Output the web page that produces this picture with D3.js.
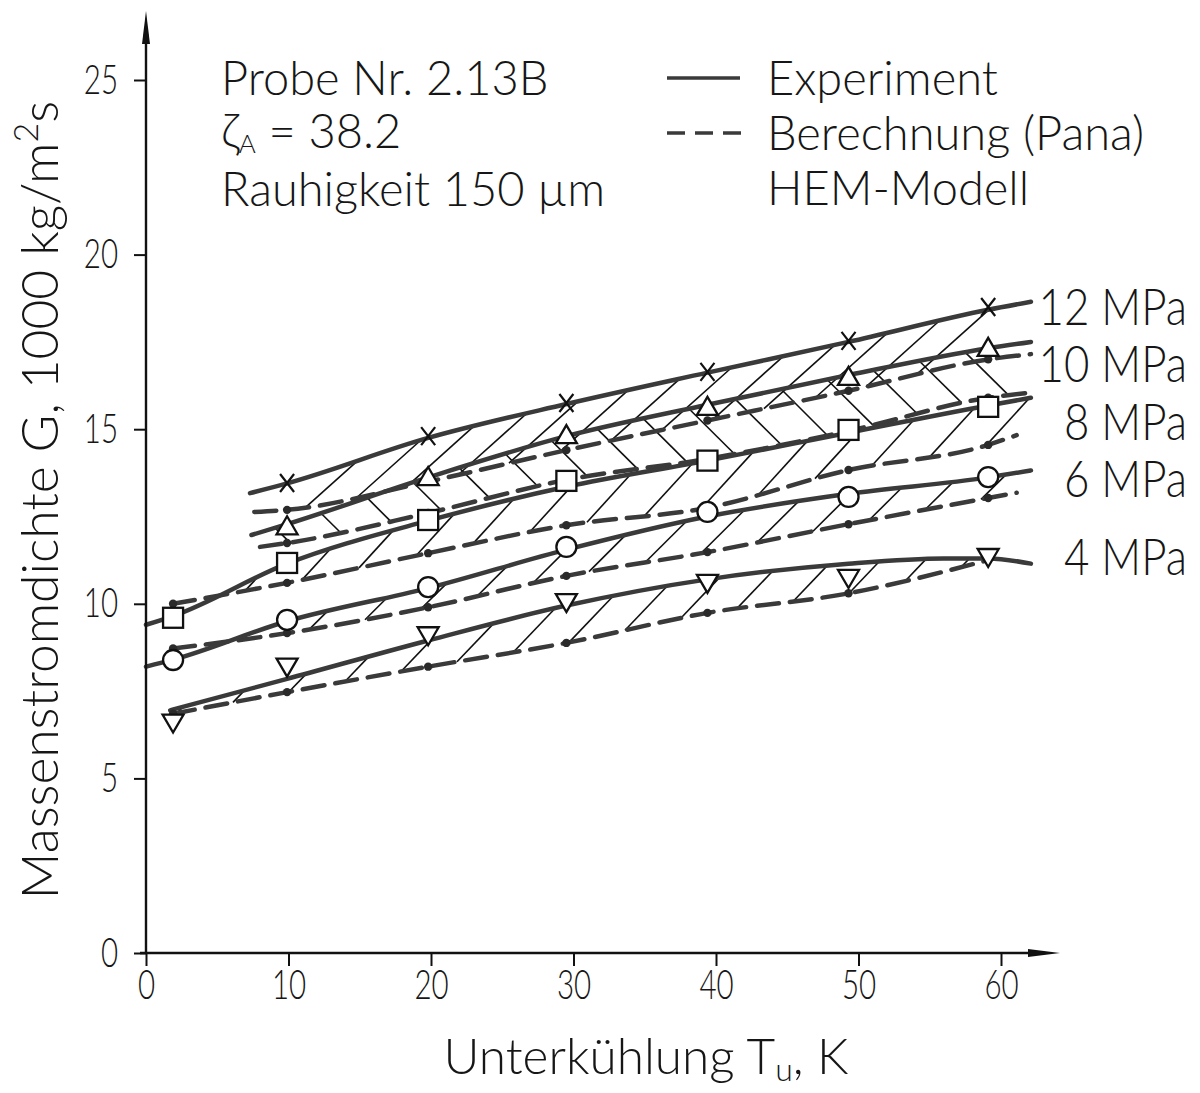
<!DOCTYPE html>
<html>
<head>
<meta charset="utf-8">
<script src="https://cdn.jsdelivr.net/npm/d3@7"></script>
<style>
  html, body { margin: 0; padding: 0; background: #fff; }
  svg { display: block; }
  text { font-family: Lato, "Liberation Sans", Arimo, sans-serif; font-weight: 300; fill: #161616; }
</style>
</head>
<body>
<svg id="chart" width="1200" height="1093"></svg>
<script>
// ---------------------------------------------------------------
// Mass flux G (1000 kg/m²s) versus subcooling T_u (K), sample 2.13B
// ---------------------------------------------------------------

const pressures = ["12 MPa", "10 MPa", "8 MPa", "6 MPa", "4 MPa"];

// measured points (markers)
const markX12 = [9.9, 19.8, 29.5, 39.4, 49.3, 59.1];
const markG12 = [13.46, 14.8, 15.75, 16.64, 17.53, 18.5];
const markX10 = [9.9, 19.8, 29.5, 39.4, 49.3, 59.1];
const markG10 = [12.22, 13.63, 14.83, 15.64, 16.5, 17.33];
const markX8  = [1.9, 9.9, 19.8, 29.5, 39.4, 49.3, 59.1];
const markG8  = [9.6, 11.17, 12.4, 13.52, 14.1, 14.98, 15.64];
const markX6  = [1.9, 9.9, 19.8, 29.5, 39.4, 49.3, 59.1];
const markG6  = [8.39, 9.54, 10.48, 11.63, 12.63, 13.06, 13.63];
const markX4  = [1.9, 9.9, 19.8, 29.5, 39.4, 49.3, 59.1];
const markG4  = [6.6, 8.2, 9.1, 10.05, 10.6, 10.74, 11.34];

// experiment curves (solid)
const expX12 = [7.3, 9.9, 19.8, 29.5, 39.4, 49.3, 59.1, 62.1];
const expG12 = [13.17, 13.45, 14.75, 15.72, 16.62, 17.5, 18.42, 18.65];
const expX10 = [7.4, 9.9, 19.8, 29.5, 39.4, 49.3, 59.1, 62.1];
const expG10 = [11.97, 12.28, 13.62, 14.8, 15.7, 16.55, 17.32, 17.5];
const expX8  = [0, 1.9, 9.9, 19.8, 29.5, 39.4, 49.3, 59.1, 62.1];
const expG8  = [9.4, 9.65, 11.15, 12.38, 13.35, 14.1, 14.9, 15.68, 15.9];
const expX6  = [0, 1.9, 9.9, 19.8, 29.5, 39.4, 49.3, 59.1, 62.1];
const expG6  = [8.2, 8.4, 9.5, 10.45, 11.55, 12.5, 13.15, 13.62, 13.82];
const expX4  = [1.7, 9.9, 19.8, 29.5, 39.4, 49.3, 56, 59.1, 62.1];
const expG4  = [6.95, 7.85, 8.95, 9.95, 10.7, 11.15, 11.3, 11.3, 11.15];

// HEM model calculation (dashed)
const calcX12 = [7.6, 9.9, 19.8, 29.5, 39.4, 49.3, 59.1, 62.1];
const calcG12 = [12.63, 12.69, 13.5, 14.4, 15.25, 16.1, 17.0, 17.15];
const calcX10 = [8, 9.9, 19.8, 29.5, 39.4, 49.3, 59.1, 62.1];
const calcG10 = [11.63, 11.74, 12.6, 13.55, 14.15, 14.95, 15.9, 16.05];
const calcX8  = [1.9, 9.9, 19.8, 29.5, 39.4, 49.3, 59.1, 61.1];
const calcG8  = [10.0, 10.6, 11.45, 12.25, 12.75, 13.83, 14.55, 14.83];
const calcX6  = [1.9, 9.9, 19.8, 29.5, 39.4, 49.3, 59.1, 61.1];
const calcG6  = [8.72, 9.16, 9.9, 10.8, 11.48, 12.28, 13.03, 13.18];
const calcX4  = [1.9, 9.9, 19.8, 29.5, 39.4, 49.3, 59.1];
const calcG4  = [6.85, 7.47, 8.2, 8.88, 9.74, 10.3, 11.25];

// axis ticks
const xTicks = [0, 10, 20, 30, 40, 50, 60];
const yTicks = [0, 5, 10, 15, 20, 25];

// text
const infoLines = ["Probe Nr. 2.13B", "= 38.2", "Rauhigkeit 150 µm"];
const legendLines = ["Experiment", "Berechnung (Pana)", "HEM-Modell"];

// ---------------------------------------------------------------
const zip = (a, b) => a.map((v, i) => [v, b[i]]);
const series = [
  { p: pressures[0], mark: zip(markX12, markG12), exp: zip(expX12, expG12), calc: zip(calcX12, calcG12), sym: "cross" },
  { p: pressures[1], mark: zip(markX10, markG10), exp: zip(expX10, expG10), calc: zip(calcX10, calcG10), sym: "triUp" },
  { p: pressures[2], mark: zip(markX8,  markG8),  exp: zip(expX8,  expG8),  calc: zip(calcX8,  calcG8),  sym: "square" },
  { p: pressures[3], mark: zip(markX6,  markG6),  exp: zip(expX6,  expG6),  calc: zip(calcX6,  calcG6),  sym: "circle" },
  { p: pressures[4], mark: zip(markX4,  markG4),  exp: zip(expX4,  expG4),  calc: zip(calcX4,  calcG4),  sym: "triDown" }
];

// hatching style per band and label placement
const bandStyle = {
  "12 MPa": { dir: "/",  step: 51, start: 254, slope: 0.9, label: [1187, 325] },
  "10 MPa": { dir: "\\", step: 46, start: 275, slope: 1.0, label: [1187, 382] },
  "8 MPa":  { dir: "/",  step: 57, start: 245, slope: 1.1, label: [1187, 440] },
  "6 MPa":  { dir: "/",  step: 56, start: 309, slope: 1.0, label: [1187, 497] },
  "4 MPa":  { dir: "/",  step: 56, start: 177, slope: 1.05, label: [1187, 575] }
};

const svg = d3.select("#chart");
const x = d3.scaleLinear().domain([0, 60]).range([146, 1001]);
const y = d3.scaleLinear().domain([0, 25]).range([953, 80]);

const curveCol = "#3a3a3a";
const ink = "#111";
const squeeze = 0.72;   // horizontal compression of the numerals

const gHatch = svg.append("g");
const gCalc = svg.append("g");
const gExp = svg.append("g");
const gDots = svg.append("g");
const gMarks = svg.append("g");
const gAxes = svg.append("g");

const line = d3.line().x(d => x(d[0])).y(d => y(d[1])).curve(d3.curveMonotoneX);

// sample a drawn path so hatch lines can end exactly on it
function sampler(node) {
  const L = node.getTotalLength();
  const pts = [];
  for (let l = 0; l <= L; l += 0.75) {
    const p = node.getPointAtLength(l);
    pts.push([p.x, p.y]);
  }
  pts.sort((a, b) => a[0] - b[0]);
  const xs = pts.map(p => p[0]);
  const bis = d3.bisector(d => d).left;
  return function (px) {
    if (px < xs[0] || px > xs[xs.length - 1]) return null;
    let i = bis(xs, px);
    if (i <= 0) return pts[0][1];
    const a = pts[i - 1], b = pts[i];
    const t = (b[0] - a[0]) === 0 ? 0 : (px - a[0]) / (b[0] - a[0]);
    return a[1] + t * (b[1] - a[1]);
  };
}

series.forEach(s => {
  const calcPath = gCalc.append("path")
    .attr("d", line(s.calc))
    .attr("fill", "none")
    .attr("stroke", curveCol)
    .attr("stroke-width", 4.5)
    .attr("stroke-dasharray", "22,11")
    .attr("stroke-linecap", "round");
  const expPath = gExp.append("path")
    .attr("d", line(s.exp))
    .attr("fill", "none")
    .attr("stroke", curveCol)
    .attr("stroke-width", 4.5)
    .attr("stroke-linecap", "round");

  // dots of the calculation at the measured subcoolings
  const markXs = s.mark.map(d => d[0]);
  gDots.selectAll(null)
    .data(s.calc.filter(d => markXs.includes(d[0])))
    .join("circle")
    .attr("cx", d => x(d[0]))
    .attr("cy", d => y(d[1]))
    .attr("r", 4.2)
    .attr("fill", "#2a2a2a");

  // hatching between experiment and calculation
  const up = sampler(expPath.node());
  const lo = sampler(calcPath.node());
  const st = bandStyle[s.p];
  const segs = [];
  for (let px = st.start; px < 1040; px += st.step) {
    if (st.dir === "/") {
      const yb = lo(px);
      if (yb === null) continue;
      let t = 0, hit = null;
      while (t < 160) {
        const xs = px + t, ys = yb - t * st.slope;
        const u = up(xs);
        if (u === null) break;
        if (ys <= u) { hit = [xs, u]; break; }
        t += 0.5;
      }
      if (hit && t > 3) segs.push([[px, yb], hit]);
    } else {
      const ya = up(px);
      if (ya === null) continue;
      let t = 0, hit = null;
      while (t < 160) {
        const xs = px + t, ys = ya + t * st.slope;
        const l = lo(xs);
        if (l === null) break;
        if (ys >= l) { hit = [xs, l]; break; }
        t += 0.5;
      }
      if (hit && t > 3) segs.push([[px, ya], hit]);
    }
  }
  gHatch.selectAll(null)
    .data(segs)
    .join("line")
    .attr("x1", d => d[0][0]).attr("y1", d => d[0][1])
    .attr("x2", d => d[1][0]).attr("y2", d => d[1][1])
    .attr("stroke", ink)
    .attr("stroke-width", 1.6);

  // markers
  const m = gMarks.selectAll(null).data(s.mark).join("g")
    .attr("transform", d => `translate(${x(d[0])},${y(d[1])})`);
  const applyStroke = sel => sel.attr("stroke", ink).attr("stroke-width", 2.3).attr("fill", "#fff");
  if (s.sym === "cross") {
    m.append("path").attr("d", "M-7,-9L7,9M7,-9L-7,9")
      .attr("stroke", ink).attr("stroke-width", 2.2).attr("fill", "none");
  } else if (s.sym === "triUp") {
    m.append("path").attr("d", "M0,-10L10.5,8L-10.5,8Z").call(applyStroke);
  } else if (s.sym === "square") {
    m.append("rect").attr("x", -10).attr("y", -10).attr("width", 20).attr("height", 20).call(applyStroke);
  } else if (s.sym === "circle") {
    m.append("circle").attr("r", 10).call(applyStroke);
  } else {
    m.append("path").attr("d", "M0,10L10.5,-8L-10.5,-8Z").call(applyStroke);
  }

  // pressure label
  svg.append("text")
    .attr("transform", `translate(${st.label[0]},${st.label[1]}) scale(0.86,1)`)
    .attr("text-anchor", "end")
    .attr("font-size", 51)
    .text(s.p);
});

// axes ----------------------------------------------------------
const yAxis = gAxes.append("g").attr("transform", `translate(${x(0)},0)`)
  .call(d3.axisLeft(y).tickValues(yTicks).tickSize(12).tickPadding(16).tickFormat(d3.format("d")));
const xAxis = gAxes.append("g").attr("transform", `translate(0,${y(0)})`)
  .call(d3.axisBottom(x).tickValues(xTicks).tickSize(13).tickPadding(4).tickFormat(d3.format("d")));
[yAxis, xAxis].forEach(a => {
  a.select(".domain").remove();
  a.attr("font-family", null);
  a.selectAll("line").attr("stroke", ink).attr("stroke-width", 2);
  a.selectAll("text").attr("font-size", 41).attr("fill", "#161616");
});
yAxis.selectAll("text")
  .attr("transform", `scale(${squeeze},1)`)
  .attr("x", -28 / squeeze);
xAxis.selectAll("text")
  .attr("transform", `scale(${squeeze},1)`);

// axis lines with arrowheads
gAxes.append("line").attr("x1", x(0)).attr("y1", y(0)).attr("x2", x(0)).attr("y2", 30)
  .attr("stroke", ink).attr("stroke-width", 2.4);
gAxes.append("path").attr("d", `M${x(0)},11L${x(0) + 4},44L${x(0) - 4},44Z`).attr("fill", ink);
gAxes.append("line").attr("x1", x(0) - 6).attr("y1", y(0)).attr("x2", 1045).attr("y2", y(0))
  .attr("stroke", ink).attr("stroke-width", 2.4);
gAxes.append("path").attr("d", `M1060,${y(0)}L1028,${y(0) - 4}L1028,${y(0) + 4}Z`).attr("fill", ink);

// axis titles
const yt = svg.append("text")
  .attr("transform", "translate(58,500) rotate(-90)")
  .attr("text-anchor", "middle")
  .attr("font-size", 51.5);
yt.append("tspan").text("Massenstromdichte G, 1000 kg/m");
yt.append("tspan").attr("font-size", 34).attr("dy", -20).text("2");
yt.append("tspan").attr("dy", 20).text("s");

const xt = svg.append("text")
  .attr("x", 646).attr("y", 1074)
  .attr("text-anchor", "middle")
  .attr("font-size", 49.5);
xt.append("tspan").text("Unterkühlung T");
xt.append("tspan").attr("font-size", 32).attr("dy", 7).text("u");
xt.append("tspan").attr("dy", -7).text(", K");

// sample information
svg.append("text").attr("x", 221).attr("y", 95).attr("font-size", 47).text(infoLines[0]);
const zt = svg.append("text").attr("x", 221).attr("y", 148).attr("font-size", 47);
zt.append("tspan").text("ζ");
zt.append("tspan").attr("font-size", 26).attr("dy", 5).text("A");
zt.append("tspan").attr("dy", -5).text(" " + infoLines[1]);
svg.append("text").attr("x", 221).attr("y", 206).attr("font-size", 47).text(infoLines[2]);

// legend
svg.append("line").attr("x1", 667).attr("x2", 740).attr("y1", 78).attr("y2", 78)
  .attr("stroke", curveCol).attr("stroke-width", 3.5);
svg.append("line").attr("x1", 667).attr("x2", 741).attr("y1", 133).attr("y2", 133)
  .attr("stroke", curveCol).attr("stroke-width", 3.5).attr("stroke-dasharray", "18,10");
legendLines.forEach((t, i) => {
  svg.append("text").attr("x", 767).attr("y", 95 + 55 * i).attr("font-size", 47).text(t);
});
</script>
</body>
</html>
